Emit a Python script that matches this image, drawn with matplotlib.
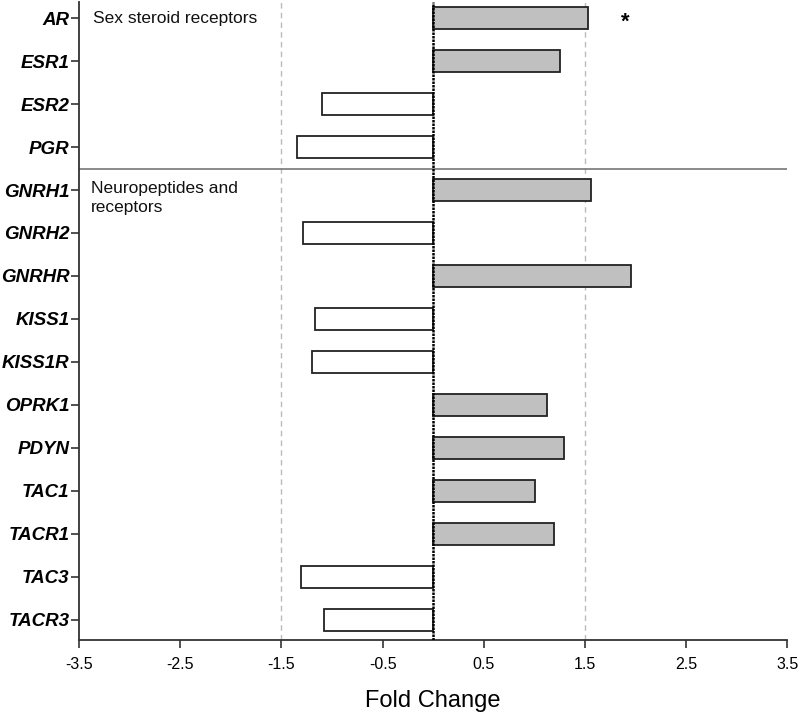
import numpy as np
import matplotlib
matplotlib.use('Agg')
import matplotlib.pyplot as plt

# gene names, top to bottom
genes = ['AR', 'ESR1', 'ESR2', 'PGR', 'GNRH1', 'GNRH2', 'GNRHR', 'KISS1',
         'KISS1R', 'OPRK1', 'PDYN', 'TAC1', 'TACR1', 'TAC3', 'TACR3']
# fold change values
fold = [1.53, 1.25, -1.10, -1.35, 1.56, -1.29, 1.96, -1.17,
        -1.20, 1.13, 1.29, 1.01, 1.19, -1.31, -1.08]
xticks = [-3.5, -2.5, -1.5, -0.5, 0.5, 1.5, 2.5, 3.5]
groups = ['Sex steroid receptors', 'Neuropeptides and\nreceptors']
star_gene = 'AR'

plt.rcParams['font.family'] = ['Liberation Sans', 'DejaVu Sans']

fig = plt.figure(figsize=(8, 7.16), dpi=100)
ax = fig.add_axes([0.099, 0.106, 0.885, 0.891])

y = np.arange(len(genes))
fold = np.array(fold)
colors = ['#c0c0c0' if v > 0 else 'white' for v in fold]
ax.barh(y, fold, height=0.5, color=colors, edgecolor='#222222', linewidth=1.3, zorder=3)

# reference lines
for xv in (-1.5, 1.5):
    ax.axvline(xv, color='#bbbbbb', lw=1, ls=(0, (4, 3)), zorder=1)
ax.axvline(0, color='black', lw=1.8, ls=(0, (1, 0.4)), zorder=4)
ax.axhline(3.5, color='#777777', lw=1.2, zorder=2)

# group labels and significance star
ax.text(-3.36, 0, groups[0], fontsize=12.5, va='center', ha='left', color='#111111')
ax.text(-3.38, 3.8, groups[1], fontsize=12.5, va='top', ha='left',
        linespacing=1.3, color='#111111')
si = genes.index(star_gene)
ax.text(1.90, si + 0.1, '*', fontsize=16, fontweight='bold', ha='center', va='center')

ax.set_xlim(-3.5, 3.5)
ax.set_ylim(14.47, -0.37)
ax.set_xticks(xticks)
ax.set_xticklabels([f'{t:.1f}' for t in xticks], fontsize=11.5)
ax.set_yticks(y)
ax.set_yticklabels(genes, fontsize=13.5, fontweight='bold', style='italic')
ax.set_xlabel('Fold Change', fontsize=17, labelpad=13)

for s in ('top', 'right'):
    ax.spines[s].set_visible(False)
for s in ('left', 'bottom'):
    ax.spines[s].set_linewidth(1.3)
    ax.spines[s].set_color('#333333')
ax.tick_params(axis='both', direction='out', length=6, width=1.2, color='#333333')
ax.tick_params(axis='y', pad=1)
ax.tick_params(axis='x', pad=6)

fig.savefig('out.png', dpi=100, facecolor='white')
